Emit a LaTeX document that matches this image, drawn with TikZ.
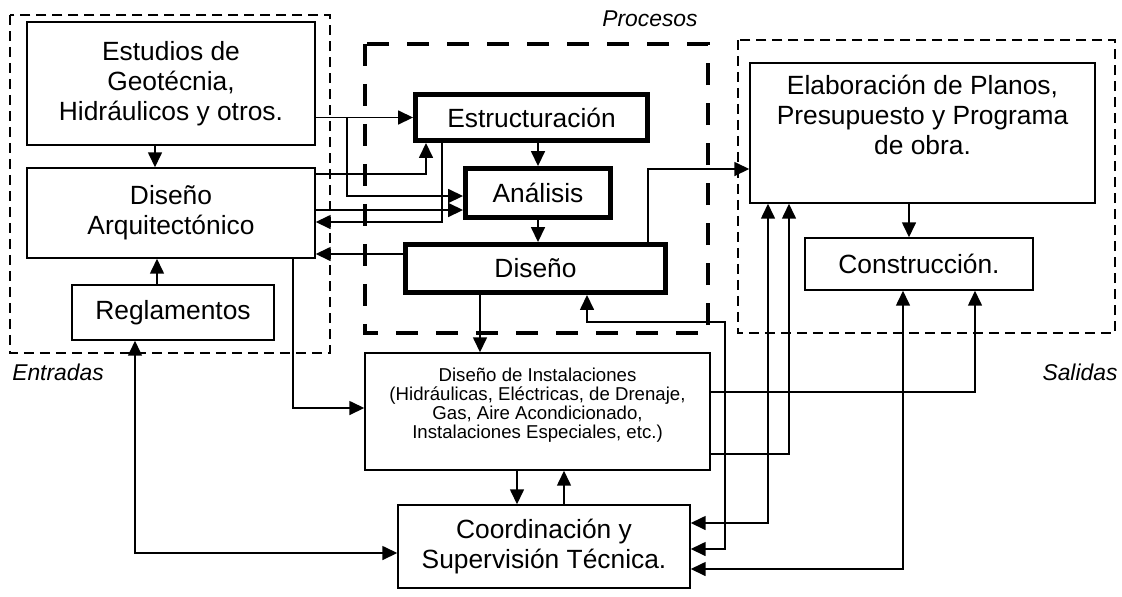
\documentclass[tikz,border=0pt]{standalone}
\usepackage{fontspec}
\setmainfont{Liberation Sans}
\usetikzlibrary{arrows.meta,positioning,calc}

\begin{document}
\begin{tikzpicture}[
    x=0.02cm, y=-0.02cm,
    box/.style={rectangle, draw=black, line width=0.85pt, align=center, font=\fontsize{15}{17}\selectfont},
    boxthick/.style={box, line width=2.8pt},
    boxsmall/.style={box, font=\fontsize{10.6}{10.8}\selectfont},
    arrow/.style={-{Triangle[length=0.3cm,width=0.28cm]}, line width=0.9pt},
    arrowboth/.style={{Triangle[length=0.3cm,width=0.28cm]}-{Triangle[length=0.3cm,width=0.28cm]}, line width=0.9pt},
    frame/.style={draw, line width=0.8pt, dash pattern=on 0.2cm off 0.12cm},
    framethick/.style={draw, line width=2.8pt, dash pattern=on 0.44cm off 0.36cm},
    note/.style={font=\fontsize{13}{15}\selectfont\itshape}
]
    \useasboundingbox (0,0) rectangle (1122,596);

    % marcos de entradas, procesos y salidas
    \draw[frame] (10,15) rectangle (330,353);
    \draw[framethick] (365,44) rectangle (708,333);
    \draw[frame] (738,40) rectangle (1115,333);

    \node[note] (procesos) at (650,19) {Procesos};
    \node[note] (entradas) at (58,372) {Entradas};
    \node[note] (salidas) at (1080,372) {Salidas};

    % entradas
    \node[box, minimum width=5.76cm, minimum height=2.46cm] (estudios) at (171,83.5) {Estudios de\\Geotécnia,\\Hidráulicos y otros.};
    \node[box, minimum width=5.76cm, minimum height=1.8cm] (disarq) at (171,213) {Diseño\\Arquitectónico};
    \node[box, minimum width=4.04cm, minimum height=1.1cm] (regla) at (173,312.5) {Reglamentos};

    % procesos
    \node[boxthick, minimum width=4.64cm, minimum height=0.92cm] (estruc) at (531.5,117.5) {Estructuración};
    \node[boxthick, minimum width=2.9cm, minimum height=0.98cm] (analisis) at (538,193) {Análisis};
    \node[boxthick, minimum width=5.2cm, minimum height=0.96cm] (diseno) at (535.5,268.5) {Diseño};

    % salidas
    \node[box, minimum width=6.9cm, minimum height=2.8cm, text depth=0.72cm] (elab) at (922.5,133) {Elaboración de Planos,\\Presupuesto y Programa\\de obra.};
    \node[box, minimum width=4.56cm, minimum height=1.04cm] (constr) at (919,264) {Construcción.};

    \node[boxsmall, minimum width=6.9cm, minimum height=2.34cm, text depth=0.32cm] (inst) at (537.5,411.5) {Diseño de Instalaciones\\(Hidráulicas, Eléctricas, de Drenaje,\\Gas, Aire Acondicionado,\\Instalaciones Especiales, etc.)};
    \node[box, minimum width=5.84cm, minimum height=1.66cm] (coord) at (544,546.5) {Coordinación y\\Supervisión Técnica.};

    % conexiones de entradas
    \draw[arrow] (155,0 |- estudios.south) -- (155,0 |- disarq.north);
    \draw[arrow] (157,0 |- regla.north) -- (157,0 |- disarq.south);
    \draw[arrow] (estudios.east |- estruc.west) -- (estruc.west);
    \draw[arrow] (347,0 |- estruc.west) |- (analisis.west |- 0,196);
    \draw[arrow] (disarq.east |- 0,174) -| (426,0 |- estruc.south);
    \draw[arrow] (disarq.east |- 0,210) -- (analisis.west |- 0,210);
    \draw[arrow] (442,0 |- estruc.south) |- (disarq.east |- 0,222);
    \draw[arrow] (diseno.west |- 0,254) -- (disarq.east |- 0,254);
    \draw[arrow] (293,0 |- disarq.south) |- (inst.west |- 0,408);
    \draw[arrowboth] (135,0 |- regla.south) |- (coord.west |- 0,553);

    % conexiones de procesos
    \draw[arrow] (analisis.north |- estruc.south) -- (analisis.north);
    \draw[arrow] (analisis.south) -- (diseno.north -| analisis.south);
    \draw[arrow] (648,0 |- diseno.north) |- (elab.west |- 0,169);
    \draw[arrow] (480,0 |- diseno.south) -- (480,0 |- inst.north);
    \draw[arrowboth] (coord.east |- 0,549) -| (725,322) -| (587,0 |- diseno.south);

    % conexiones de salidas
    \draw[arrow] (909,0 |- elab.south) -- (909,0 |- constr.north);
    \draw[arrowboth] (coord.east |- 0,523) -| (768,0 |- elab.south);
    \draw[arrow] (inst.east |- 0,454) -| (789,0 |- elab.south);
    \draw[arrowboth] (coord.east |- 0,569) -| (903,0 |- constr.south);
    \draw[arrow] (inst.east |- 0,392) -| (975,0 |- constr.south);
    \draw[arrow] (517,0 |- inst.south) -- (517,0 |- coord.north);
    \draw[arrow] (564,0 |- coord.north) -- (564,0 |- inst.south);
\end{tikzpicture}
\end{document}
